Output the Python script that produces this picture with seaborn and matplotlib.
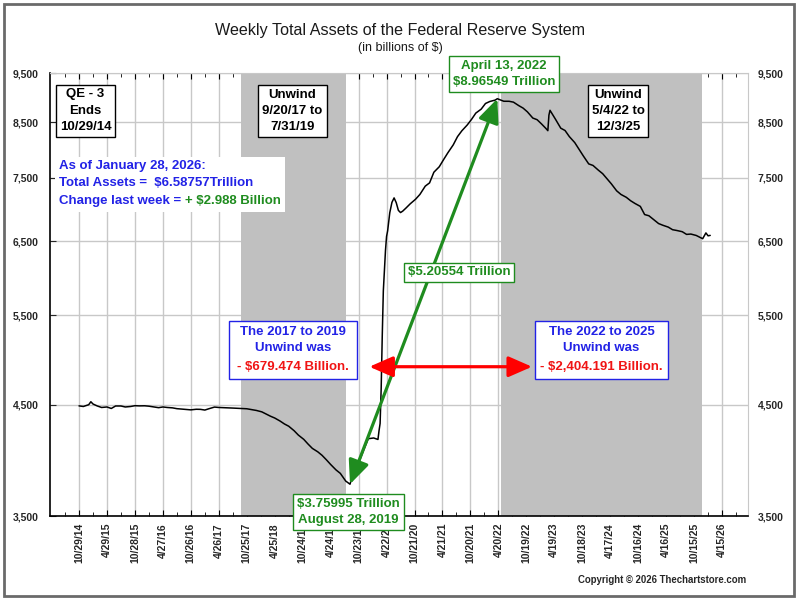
import pandas as pd
import matplotlib
matplotlib.use('Agg')
import matplotlib.pyplot as plt
from matplotlib.patches import Rectangle
from matplotlib.ticker import FuncFormatter, NullLocator
import seaborn as sns

# Weekly total assets (billions of $)
week_dates = [
    '2014-10-29', '2014-11-26', '2014-12-31', '2015-01-14', '2015-01-28', '2015-02-25',
    '2015-03-25', '2015-04-29', '2015-05-27', '2015-06-24', '2015-07-29', '2015-08-26',
    '2015-09-30', '2015-10-28', '2015-11-25', '2015-12-30', '2016-01-27', '2016-02-24',
    '2016-03-30', '2016-04-27', '2016-05-25', '2016-06-29', '2016-07-27', '2016-08-31',
    '2016-09-28', '2016-10-26', '2016-11-30', '2016-12-28', '2017-01-25', '2017-02-22',
    '2017-03-29', '2017-04-26', '2017-05-31', '2017-06-28', '2017-07-26', '2017-08-30',
    '2017-09-20', '2017-10-25', '2017-11-29', '2017-12-27', '2018-01-31', '2018-02-28',
    '2018-03-28', '2018-04-25', '2018-05-30', '2018-06-27', '2018-07-25', '2018-08-29',
    '2018-09-26', '2018-10-31', '2018-11-28', '2018-12-26', '2019-01-30', '2019-02-27',
    '2019-03-27', '2019-04-24', '2019-05-29', '2019-06-26', '2019-07-31', '2019-08-28',
    '2019-09-18', '2019-10-02', '2019-10-30', '2019-11-27', '2019-12-25', '2020-01-29',
    '2020-02-26', '2020-03-04', '2020-03-11', '2020-03-18', '2020-03-25', '2020-04-01',
    '2020-04-08', '2020-04-15', '2020-04-22', '2020-04-29', '2020-05-13', '2020-05-27',
    '2020-06-10', '2020-06-24', '2020-07-08', '2020-07-22', '2020-08-05', '2020-08-26',
    '2020-09-23', '2020-10-28', '2020-11-25', '2020-12-30', '2021-01-27', '2021-02-24',
    '2021-03-31', '2021-04-28', '2021-05-26', '2021-06-30', '2021-07-28', '2021-08-25',
    '2021-09-29', '2021-10-27', '2021-11-24', '2021-12-29', '2022-01-26', '2022-02-23',
    '2022-03-30', '2022-04-13', '2022-05-25', '2022-06-29', '2022-07-27', '2022-08-31',
    '2022-09-28', '2022-10-26', '2022-11-30', '2022-12-28', '2023-01-25', '2023-02-22',
    '2023-03-08', '2023-03-15', '2023-03-22', '2023-04-26', '2023-05-31', '2023-06-28',
    '2023-07-26', '2023-08-30', '2023-09-27', '2023-10-25', '2023-11-29', '2023-12-27',
    '2024-01-31', '2024-02-28', '2024-03-27', '2024-04-24', '2024-05-29', '2024-06-26',
    '2024-07-31', '2024-08-28', '2024-09-25', '2024-10-30', '2024-11-27', '2024-12-25',
    '2025-01-29', '2025-02-26', '2025-03-26', '2025-04-30', '2025-05-28', '2025-06-25',
    '2025-07-30', '2025-08-27', '2025-09-24', '2025-10-29', '2025-11-26', '2025-12-10',
    '2025-12-31', '2026-01-14', '2026-01-21', '2026-01-28',
]
total_assets = [
    4486, 4480, 4498, 4528, 4505, 4485,
    4470, 4475, 4460, 4485, 4485, 4475,
    4480, 4488, 4486, 4487, 4483, 4476,
    4468, 4475, 4470, 4466, 4458, 4453,
    4448, 4446, 4452, 4451, 4444, 4458,
    4474, 4470, 4468, 4467, 4464, 4461,
    4460, 4457, 4447, 4440, 4426, 4405,
    4383, 4365, 4335, 4307, 4285, 4242,
    4200, 4160, 4116, 4076, 4045, 4013,
    3973, 3931, 3883, 3853, 3787, 3760,
    3853, 3945, 3968, 4068, 4166, 4173,
    4159, 4242, 4312, 4667, 5254, 5814,
    6083, 6368, 6573, 6656, 6934, 7097,
    7169, 7092, 6970, 6936, 6958, 7006,
    7074, 7148, 7225, 7362, 7416, 7596,
    7690, 7814, 7936, 8079, 8231, 8339,
    8449, 8556, 8679, 8757, 8869, 8909,
    8937, 8965, 8914, 8913, 8896, 8826,
    8777, 8703, 8583, 8551, 8472, 8388,
    8342, 8639, 8734, 8563, 8389, 8345,
    8231, 8121, 7999, 7880, 7740, 7713,
    7631, 7571, 7486, 7401, 7284, 7225,
    7178, 7123, 7080, 7033, 6905, 6886,
    6818, 6766, 6740, 6712, 6673, 6661,
    6643, 6603, 6608, 6587, 6555, 6539,
    6625, 6582, 6585, 6588,
]

tick_labels = ['10/29/14', '4/29/15', '10/28/15', '4/27/16', '10/26/16', '4/26/17',
               '10/25/17', '4/25/18', '10/24/18', '4/24/19', '10/23/19', '4/22/20',
               '10/21/20', '4/21/21', '10/20/21', '4/20/22', '10/19/22', '4/19/23',
               '10/18/23', '4/17/24', '10/16/24', '4/16/25', '10/15/25', '4/15/26']
y_ticks = [3500, 4500, 5500, 6500, 7500, 8500, 9500]

unwind_periods = [('2017-09-20', '2019-07-31'), ('2022-05-04', '2025-12-03')]
low_date, low_value = '2019-08-28', 3760
peak_date, peak_value = '2022-04-13', 8965
red_arrow = ('2020-01-01', '2022-11-25', 4900)

GREEN = '#1f8c1f'
BLUE = '#2222e6'
RED = '#f01414'

sns.set_style('white')
plt.rcParams['font.family'] = ['Liberation Sans', 'DejaVu Sans']

df = pd.DataFrame({'date': pd.to_datetime(week_dates), 'assets': total_assets})
tick_dates = pd.to_datetime(tick_labels, format='%m/%d/%y')
minor_dates = [d - pd.Timedelta(weeks=13) for d in tick_dates] + [tick_dates[-1] + pd.Timedelta(weeks=13)]

fig = plt.figure(figsize=(8, 6), dpi=100)
ax = fig.add_axes([50 / 800, 84 / 600, 698 / 800, 443 / 600])
ax.set_yscale('log')

sns.lineplot(data=df, x='date', y='assets', ax=ax, color='black', lw=1.1, zorder=3)

for start, end in unwind_periods:
    ax.axvspan(pd.Timestamp(start), pd.Timestamp(end), color='#c0c0c0', lw=0, zorder=1)

ax.set_xlim(pd.Timestamp('2014-04-23'), pd.Timestamp('2026-10-01'))
ax.set_ylim(3500, 9500)
ax.set_yticks(y_ticks)
ax.yaxis.set_minor_locator(NullLocator())
ax.yaxis.set_major_formatter(FuncFormatter(lambda v, _: f'{v:,.0f}'))
ax.set_xticks(tick_dates)
ax.set_xticks(minor_dates, minor=True)
ax.set_xticklabels(tick_labels, rotation=90, fontsize=7.5, fontweight='bold')
ax.set_xlabel('')
ax.set_ylabel('')
ax.grid(True, which='major', color='#c8c8c8', lw=1)
ax.set_axisbelow(True)
ax.tick_params(axis='x', which='both', direction='in', top=True, bottom=True, color='black', pad=5)
ax.tick_params(axis='x', which='major', length=4)
ax.tick_params(axis='x', which='minor', length=3)
ax.tick_params(axis='y', direction='in', length=4, pad=8, labelsize=7.5)
for lab in ax.get_yticklabels():
    lab.set_fontweight('bold')
for side in ['left', 'bottom']:
    ax.spines[side].set_color('black')
    ax.spines[side].set_linewidth(1.2)
for side in ['top', 'right']:
    ax.spines[side].set_color('#c8c8c8')

ax2 = ax.twinx()
ax2.set_yscale('log')
ax2.set_ylim(3500, 9500)
ax2.set_yticks(y_ticks)
ax2.yaxis.set_minor_locator(NullLocator())
ax2.yaxis.set_major_formatter(FuncFormatter(lambda v, _: f'{v:,.0f}'))
ax2.tick_params(axis='y', length=0, pad=7, labelsize=7.5)
for lab in ax2.get_yticklabels():
    lab.set_fontweight('bold')
for side in ax2.spines:
    ax2.spines[side].set_visible(False)
ax2.grid(False)


def px(x, y):
    # pixel position on the 800x600 picture -> axes fraction
    return (x - 50) / 698, (516 - y) / 443


def box(x, y, s, color, edge):
    return ax.text(*px(x, y), s, transform=ax.transAxes, ha='center', va='center',
                   color=color, fontsize=9.5, fontweight='bold', linespacing=1.5,
                   bbox=dict(boxstyle='square,pad=0.3', fc='white', ec=edge, lw=1),
                   zorder=6, clip_on=False)


def plain(x, y, s, color, ha='center'):
    return ax.text(*px(x, y), s, transform=ax.transAxes, ha=ha, va='center',
                   color=color, fontsize=9.5, fontweight='bold', linespacing=1.5,
                   zorder=7, clip_on=False)


def frame(left, top, right, bottom, edge):
    x0, y0 = px(left, bottom)
    x1, y1 = px(right, top)
    ax.add_patch(Rectangle((x0, y0), x1 - x0, y1 - y0, transform=ax.transAxes,
                           fc='white', ec=edge, lw=1, zorder=5, clip_on=False))


box(85.5, 111, 'QE - 3\nEnds\n10/29/14', 'black', 'black')
box(292.5, 111, 'Unwind\n9/20/17 to\n7/31/19', 'black', 'black')
box(618, 111, 'Unwind\n5/4/22 to\n12/3/25', 'black', 'black')
box(504, 74, 'April 13, 2022\n$8.96549 Trillion', GREEN, GREEN)
box(459, 272.5, '$5.20554 Trillion', GREEN, GREEN)
box(348.5, 512, '$3.75995 Trillion\nAugust 28, 2019', GREEN, GREEN)

# two-colour boxes: frame, blue lines, red line
for left, right, l1, l3 in [(229, 357, 'The 2017 to 2019', '- $679.474 Billion.'),
                            (535, 668, 'The 2022 to 2025', '- $2,404.191 Billion.')]:
    frame(left, 321, right, 379, BLUE)
    cx = (left + right) / 2
    plain(cx, 340, l1 + '\nUnwind was', BLUE)
    plain(cx, 366.5, l3, RED)

# "As of" block
frame(55, 157, 285, 212, 'none')
plain(59, 166, 'As of January 28, 2026:', BLUE, ha='left')
plain(59, 183.5, 'Total Assets =  $6.58757Trillion', BLUE, ha='left')
change = plain(59, 201, 'Change last week = ', BLUE, ha='left')
ax.annotate('+ $2.988 Billion', xy=(1, 0.5), xycoords=change, ha='left', va='center',
            color=GREEN, fontsize=9.5, fontweight='bold', zorder=7)

# arrows
head = '<|-|>,head_length=0.8,head_width=0.35'
ax.annotate('', xy=(pd.Timestamp(peak_date), peak_value), xytext=(pd.Timestamp(low_date), low_value),
            arrowprops=dict(arrowstyle=head, color=GREEN, lw=2.3, mutation_scale=18,
                            shrinkA=0, shrinkB=0), zorder=4)
ax.annotate('', xy=(pd.Timestamp(red_arrow[1]), red_arrow[2]), xytext=(pd.Timestamp(red_arrow[0]), red_arrow[2]),
            arrowprops=dict(arrowstyle=head, color='#ff0000', lw=2.3, mutation_scale=18,
                            shrinkA=0, shrinkB=0), zorder=4)

fig.text(0.5, 1 - 30 / 600, 'Weekly Total Assets of the Federal Reserve System', ha='center', va='center',
         fontsize=11.6, color='#1a1a1a')
fig.text(0.5, 1 - 48 / 600, '(in billions of $)', ha='center', va='center', fontsize=9, color='#1a1a1a')
fig.text(746 / 800, 1 - 580 / 600, 'Copyright \u00a9 2026 Thechartstore.com', ha='right', va='center',
         fontsize=6.9, fontweight='bold')
fig.patches.append(Rectangle((4 / 800, 4 / 600), 790 / 800, 592 / 600, transform=fig.transFigure,
                             fill=False, ec='#6a6a6a', lw=2))

fig.savefig('out.png', dpi=100)
